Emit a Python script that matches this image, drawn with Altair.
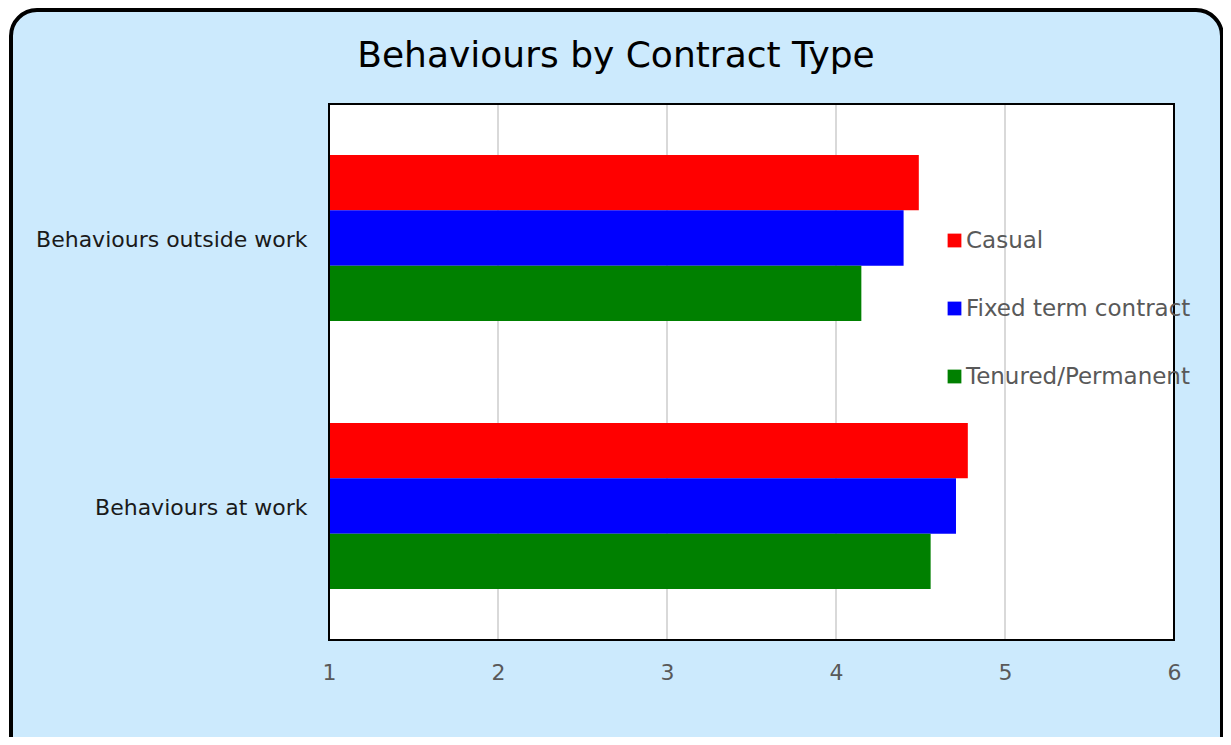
import altair as alt
import pandas as pd

# ---- data ----
categories = ["Behaviours outside work", "Behaviours at work"]
series = ["Casual", "Fixed term contract", "Tenured/Permanent"]
outside_values = [4.49, 4.40, 4.15]
at_work_values = [4.78, 4.71, 4.56]
colors = ["#ff0000", "#0000ff", "#008000"]
x_ticks = [1, 2, 3, 4, 5, 6]
grid_ticks = [2, 3, 4, 5]
title_text = "Behaviours by Contract Type"

rows = []
for cat, vals in zip(categories, [outside_values, at_work_values]):
    for s, v in zip(series, vals):
        rows.append({"category": cat, "series": s, "value": v})
df = pd.DataFrame(rows)

FONT = "DejaVu Sans"
W, H = 845, 536
one = pd.DataFrame({"k": [0]})
xscale = alt.Scale(domain=[1, 6], nice=False, zero=False)
xaxis = alt.Axis(
    values=x_ticks, title=None, ticks=False, tickSize=0, domain=False,
    grid=False, labelFlush=False, labelFont=FONT, labelFontSize=22,
    labelColor="#595959", labelPadding=22, format="d", zindex=1,
)

# decorative rounded panel behind everything
frame = alt.Chart(one).mark_rect(
    fill="#cceafd", stroke="black", strokeWidth=4, cornerRadius=26
).encode(x=alt.value(-318), x2=alt.value(893), y=alt.value(-94), y2=alt.value(660))

title = alt.Chart(one).mark_text(
    text=title_text, font=FONT, fontSize=36, color="black",
    align="center", baseline="alphabetic",
).encode(x=alt.value(287), y=alt.value(-37))

plot_bg = alt.Chart(one).mark_rect(fill="white").encode(
    x=alt.value(0), x2=alt.value(W), y=alt.value(0), y2=alt.value(H)
)

grid = alt.Chart(pd.DataFrame({"tick": grid_ticks})).mark_rule(
    color="#d9d9d9", strokeWidth=2
).encode(
    x=alt.X("tick:Q", scale=xscale, axis=xaxis),
    y=alt.value(0),
    y2=alt.value(H),
)

bars = alt.Chart(df).mark_bar().encode(
    y=alt.Y(
        "category:N",
        sort=categories,
        scale=alt.Scale(paddingInner=0, paddingOuter=0),
        axis=alt.Axis(
            title=None, ticks=False, tickSize=0, domain=False, grid=False,
            labelFont=FONT, labelFontSize=22, labelColor="#1a1a1a",
            labelPadding=22, labelLimit=400, labelOffset=2, zindex=1,
        ),
    ),
    yOffset=alt.YOffset(
        "series:N", sort=series,
        scale=alt.Scale(paddingInner=0, paddingOuter=0.92),
    ),
    x=alt.X("value:Q", scale=xscale, axis=xaxis),
    x2=alt.datum(1),
    color=alt.Color(
        "series:N",
        sort=series,
        scale=alt.Scale(domain=series, range=colors),
        legend=alt.Legend(
            title=None, orient="none", legendX=614, legendY=125,
            direction="vertical", symbolType="square", symbolSize=190,
            symbolStrokeWidth=0, labelFont=FONT, labelFontSize=23,
            labelColor="#595959", rowPadding=44, padding=0, labelOffset=0,
            labelLimit=400, zindex=2,
        ),
    ),
)

border = alt.Chart(one).mark_rect(
    fillOpacity=0, stroke="black", strokeWidth=2
).encode(x=alt.value(0), x2=alt.value(W), y=alt.value(0), y2=alt.value(H))

chart = alt.layer(frame, title, plot_bg, grid, bars, border).properties(
    width=W,
    height=H,
    padding={"left": 321, "top": 96, "right": 49, "bottom": 97},
    autosize=alt.AutoSizeParams(type="none"),
).configure_view(stroke=None).configure(background="white")

chart.save("out.html", embed_options={"renderer": "svg", "actions": False})
